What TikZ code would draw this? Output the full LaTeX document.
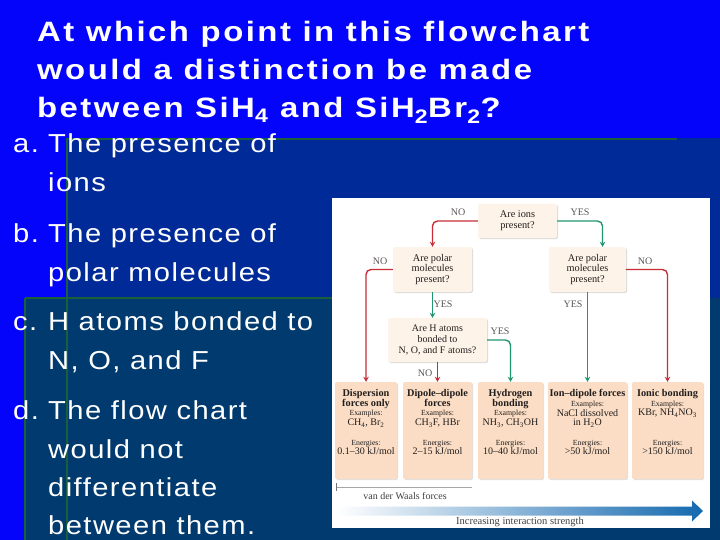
\documentclass[tikz,border=0pt]{standalone}
\usepackage{fontspec}
\usepackage{graphicx}
\setmainfont{Liberation Sans}
\newfontfamily\titlefont[LetterSpace=7.5]{Liberation Sans}
\newfontfamily\ansfont[LetterSpace=5]{Liberation Sans}
\newfontfamily\chartfont[Ligatures=TeX]{Liberation Serif}
\usetikzlibrary{shadows,arrows.meta}
\definecolor{bgblue}{RGB}{4,4,250}
\definecolor{midblue}{RGB}{0,42,152}
\definecolor{tealblue}{RGB}{0,58,110}
\definecolor{edgegreen}{RGB}{25,95,60}
\definecolor{qfill}{RGB}{253,243,232}
\definecolor{ffill}{RGB}{250,221,196}
\definecolor{nored}{RGB}{200,45,55}
\definecolor{yesgreen}{RGB}{30,150,110}
\definecolor{ctext}{RGB}{35,30,30}
\definecolor{cgrey}{RGB}{90,85,85}
\definecolor{arrowblue}{RGB}{20,105,175}
\newcommand\ttlx[1]{\scalebox{1.175}[1]{#1}}
\newcommand\ansx[1]{\scalebox{1.12}[1]{#1}}
\tikzset{
  titleline/.style={anchor=base west, inner sep=0pt, text=white, font=\titlefont\bfseries\fontsize{28}{34}\selectfont},
  ansline/.style={anchor=base west, inner sep=0pt, text=white, font=\ansfont\fontsize{26}{30}\selectfont},
  qbox/.style={fill=qfill, rounded corners=2pt, inner sep=0pt, align=center, text=ctext,
    font=\chartfont\fontsize{10.3}{10.7}\selectfont,
    drop shadow={shadow xshift=1pt, shadow yshift=-1pt, opacity=0.35, fill=black!40}},
  forcebox/.style={fill=ffill, rounded corners=2pt, inner sep=0pt,
    drop shadow={shadow xshift=1pt, shadow yshift=-1pt, opacity=0.3, fill=black!40}},
  forcetext/.style={anchor=north, inner sep=0pt, align=center, text=ctext,
    font=\chartfont\fontsize{10}{9.8}\selectfont},
  energytext/.style={inner sep=0pt, align=center, text=ctext,
    font=\chartfont\fontsize{10}{9.5}\selectfont},
  lab/.style={inner sep=0pt, text=cgrey, font=\chartfont\fontsize{10}{10}\selectfont},
  nopath/.style={draw=nored, line width=1.4pt, rounded corners=5pt, -{Stealth[length=5pt,width=5.5pt]}},
  yespath/.style={draw=yesgreen, line width=1.4pt, rounded corners=5pt, -{Stealth[length=5pt,width=5.5pt]}},
}
\newcommand\smalltx[1]{{\fontsize{7.8}{9.8}\selectfont #1}}
\newcommand\boldtx[1]{{\bfseries\fontsize{10.3}{10}\selectfont #1}}
\begin{document}
\begin{tikzpicture}[x=1pt,y=-1pt]
\useasboundingbox (0,0) rectangle (720,540);
% slide background
\fill[bgblue] (0,0) rectangle (720,540);
\fill[midblue] (67,138) rectangle (720,540);
\fill[tealblue] (25,298) rectangle (720,540);
\draw[edgegreen, line width=2pt] (67,139) -- (677,139);
\draw[edgegreen, line width=1.5pt] (67,138) -- (67,540);
\draw[edgegreen, line width=2pt] (25,298) -- (332,298);
\draw[edgegreen, line width=1.5pt] (25,298) -- (25,540);
% question
\node[titleline] (t1) at (37,42) {\ttlx{At which point in this flowchart}};
\node[titleline] (t2) at (37,80) {\ttlx{would a distinction be made}};
\node[titleline] (t3) at (37,118) {\ttlx{between SiH\textsubscript{4} and SiH\textsubscript{2}Br\textsubscript{2}?}};
% answers
\node[ansline] (a0) at (13,153) {\ansx{a.}};
\node[ansline] (a1) at (48,153) {\ansx{The presence of}};
\node[ansline] (a2) at (48,192) {\ansx{ions}};
\node[ansline] (b0) at (13,242) {\ansx{b.}};
\node[ansline] (b1) at (48,242) {\ansx{The presence of}};
\node[ansline] (b2) at (48,281) {\ansx{polar molecules}};
\node[ansline] (c0) at (13,330) {\ansx{c.}};
\node[ansline] (c1) at (48,330) {\ansx{H atoms bonded to}};
\node[ansline] (c2) at (48,369) {\ansx{N, O, and F}};
\node[ansline] (d0) at (13,419) {\ansx{d.}};
\node[ansline] (d1) at (48,419) {\ansx{The flow chart}};
\node[ansline] (d2) at (48,458) {\ansx{would not}};
\node[ansline] (d3) at (48,496) {\ansx{differentiate}};
\node[ansline] (d4) at (48,534) {\ansx{between them.}};
% flowchart picture
\fill[white] (332,198) rectangle (710,528);
\node[qbox, minimum width=79pt, minimum height=34pt] (ions) at (517.5,221) {Are ions\\present?};
\node[qbox, minimum width=79pt, minimum height=45pt] (polL) at (432.5,269.5) {Are polar\\molecules\\present?};
\node[qbox, minimum width=77pt, minimum height=45pt] (polR) at (587.5,269.5) {Are polar\\molecules\\present?};
\node[qbox, minimum width=99pt, minimum height=44pt, font=\chartfont\fontsize{10}{10.8}\selectfont] (hatm) at (437.5,340) {Are H atoms\\bonded to\\N, O, and F atoms?};
% force boxes
\node[forcebox, minimum width=62pt, minimum height=97pt] (disp) at (366,430.5) {};
\node[forcebox, minimum width=69pt, minimum height=97pt] (dip) at (437.5,430.5) {};
\node[forcebox, minimum width=65pt, minimum height=97pt] (hyd) at (510.5,430.5) {};
\node[forcebox, minimum width=79pt, minimum height=97pt] (iond) at (587.5,430.5) {};
\node[forcebox, minimum width=71pt, minimum height=97pt] (ionic) at (667.5,430.5) {};
\node[forcetext] (dispT) at (366,389) {\boldtx{Dispersion}\\\boldtx{forces only}\\\smalltx{Examples:}\\CH\textsubscript{4}, Br\textsubscript{2}};
\node[forcetext] (dipT) at (437.5,389) {\boldtx{Dipole–dipole}\\\boldtx{forces}\\\smalltx{Examples:}\\CH\textsubscript{3}F, HBr};
\node[forcetext] (hydT) at (510.5,389) {\boldtx{Hydrogen}\\\boldtx{bonding}\\\smalltx{Examples:}\\NH\textsubscript{3}, CH\textsubscript{3}OH};
\node[forcetext] (iondT) at (587.5,389) {\boldtx{Ion–dipole forces}\\\smalltx{Examples:}\\NaCl dissolved\\in H\textsubscript{2}O};
\node[forcetext] (ionicT) at (667.5,389) {\boldtx{Ionic bonding}\\\smalltx{Examples:}\\KBr, NH\textsubscript{4}NO\textsubscript{3}};
\node[energytext] (dispE) at (366,447.5) {\smalltx{Energies:}\\0.1–30 kJ/mol};
\node[energytext] (dipE) at (437.5,447.5) {\smalltx{Energies:}\\2–15 kJ/mol};
\node[energytext] (hydE) at (510.5,447.5) {\smalltx{Energies:}\\10–40 kJ/mol};
\node[energytext] (iondE) at (587.5,447.5) {\smalltx{Energies:}\\>50 kJ/mol};
\node[energytext] (ionicE) at (667.5,447.5) {\smalltx{Energies:}\\>150 kJ/mol};
% connectors
\draw[nopath] (ions.west) -| (polL.north);
\draw[yespath] (ions.east) -| ([xshift=15pt]polR.north);
\draw[nopath] (polL.west) -| (disp.north);
\draw[nopath] (polR.east) -| (ionic.north);
\draw[yespath] (polL.south) -- (polL.south |- hatm.north);
\draw[yespath] (hatm.east) -| (hyd.north);
\draw[nopath] (hatm.south) -- (dip.north);
\draw[yespath] (polR.south) -- (iond.north);
% labels
\node[lab] (l1) at (458,212) {NO};
\node[lab] (l2) at (580,212) {YES};
\node[lab] (l3) at (380,261) {NO};
\node[lab] (l4) at (645,261) {NO};
\node[lab] (l5) at (443,304) {YES};
\node[lab] (l6) at (573,304) {YES};
\node[lab] (l7) at (500,331) {YES};
\node[lab] (l8) at (425,373) {NO};
% van der Waals bracket
\coordinate (vl) at (336,487);
\coordinate (vr) at (472,487);
\draw[black!35, line width=0.6pt] (vl) -- (vr);
\draw[black!55, line width=0.8pt] ([yshift=4pt]vl) -- ([yshift=-4pt]vl);
\node[lab, text=black!75, font=\chartfont\fontsize{10}{10}\selectfont] (vdw) at (405,496) {van der Waals forces};
% strength arrow
\shade[left color=white, right color=arrowblue]
  (337,506.5) -- (692,506.5) -- (692,500.5) -- (703,511) -- (692,521.5) -- (692,515.5) -- (337,515.5) -- cycle;
\node[lab, text=black!75, font=\chartfont\fontsize{10.5}{10.5}\selectfont] (inc) at (520,522) {Increasing interaction strength};
\end{tikzpicture}
\end{document}
